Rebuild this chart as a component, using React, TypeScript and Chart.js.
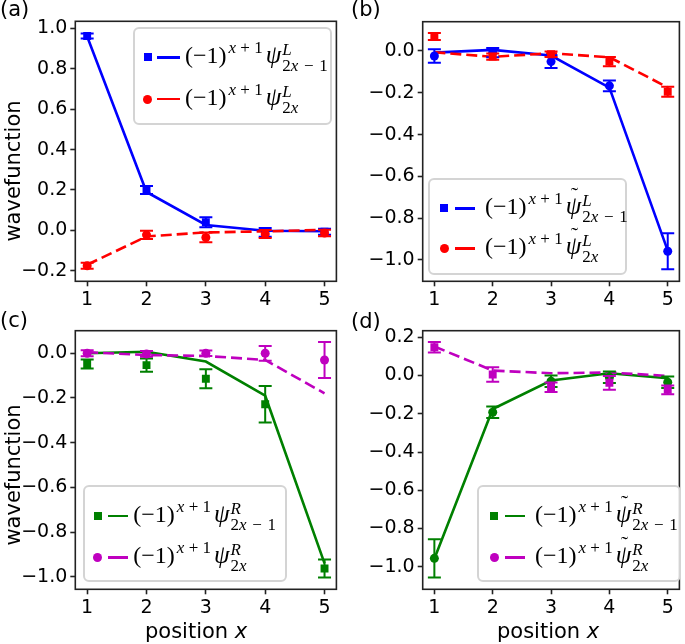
import React, { useEffect, useRef } from 'react';
import { Chart, registerables } from 'chart.js';

Chart.register(...registerables);

const SANS = '"DejaVu Sans", sans-serif';
const SERIF = '"Liberation Serif", "DejaVu Serif", serif';
const BLUE = '#0000ff';
const RED = '#ff0000';
const GREEN = '#008000';
const MAGENTA = '#bf00bf';

// x positions and ticks
const positions = [1, 2, 3, 4, 5];
const xTickValues = [1, 2, 3, 4, 5];

// (a) psi^L
const aTheoryOdd = [0.96, 0.19, 0.027, -0.002, -0.004];
const aDataOdd = [0.962, 0.2, 0.04, -0.01, -0.007];
const aErrOdd = [0.012, 0.02, 0.025, 0.022, 0.015];
const aTheoryEven = [-0.17, -0.03, -0.01, -0.005, 0.003];
const aDataEven = [-0.175, -0.022, -0.035, -0.018, -0.013];
const aErrEven = [0.015, 0.02, 0.024, 0.02, 0.016];
const aYTicks = [-0.2, 0.0, 0.2, 0.4, 0.6, 0.8, 1.0];

// (b) tilde psi^L
const bTheoryOdd = [-0.008, 0.005, -0.022, -0.175, -0.955];
const bDataOdd = [-0.024, -0.008, -0.051, -0.167, -0.958];
const bErrOdd = [0.032, 0.022, 0.03, 0.026, 0.086];
const bTheoryEven = [-0.006, -0.028, -0.011, -0.03, -0.174];
const bDataEven = [0.069, -0.027, -0.016, -0.051, -0.195];
const bErrEven = [0.017, 0.015, 0.013, 0.022, 0.024];
const bYTicks = [-1.0, -0.8, -0.6, -0.4, -0.2, 0.0];

// (c) psi^R
const cTheoryOdd = [0.0, 0.007, -0.037, -0.19, -0.94];
const cDataOdd = [-0.048, -0.053, -0.114, -0.228, -0.963];
const cErrOdd = [0.02, 0.03, 0.042, 0.082, 0.04];
const cTheoryEven = [0.005, -0.008, -0.012, -0.03, -0.179];
const cDataEven = [0.0, -0.003, 0.0, 0.0, -0.03];
const cErrEven = [0.013, 0.013, 0.012, 0.033, 0.081];
const cYTicks = [-1.0, -0.8, -0.6, -0.4, -0.2, 0.0];

// (d) tilde psi^R
const dTheoryOdd = [-0.958, -0.175, -0.026, 0.012, -0.014];
const dDataOdd = [-0.956, -0.192, -0.03, -0.009, -0.035];
const dErrOdd = [0.1, 0.03, 0.03, 0.03, 0.03];
const dTheoryEven = [0.152, 0.026, 0.012, 0.016, -0.002];
const dDataEven = [0.148, 0.005, -0.061, -0.038, -0.075];
const dErrEven = [0.027, 0.038, 0.025, 0.036, 0.023];
const dYTicks = [-1.0, -0.8, -0.6, -0.4, -0.2, 0.0, 0.2];

type Series = {
  kind: 'line' | 'points';
  values: number[];
  errors?: number[];
  color: string;
  dashed?: boolean;
  marker?: 'rect' | 'circle';
};

type PanelSpec = {
  canvas: { left: number; top: number; width: number; height: number };
  area: { l: number; t: number; r: number; b: number };
  yMin: number;
  yMax: number;
  yTicks: number[];
  series: Series[];
};

const panels: PanelSpec[] = [
  {
    canvas: { left: 0, top: 0, width: 342, height: 312 },
    area: { l: 75.3, t: 21.3, r: 337.7, b: 281.3 },
    yMin: -0.252, yMax: 1.035, yTicks: aYTicks,
    series: [
      { kind: 'points', values: aDataEven, errors: aErrEven, color: RED, marker: 'circle' },
      { kind: 'points', values: aDataOdd, errors: aErrOdd, color: BLUE, marker: 'rect' },
      { kind: 'line', values: aTheoryEven, color: RED, dashed: true },
      { kind: 'line', values: aTheoryOdd, color: BLUE },
    ],
  },
  {
    canvas: { left: 342, top: 0, width: 343, height: 312 },
    area: { l: 422.7, t: 21.7, r: 682.7, b: 281.3 },
    yMin: -1.102, yMax: 0.14, yTicks: bYTicks,
    series: [
      { kind: 'points', values: bDataEven, errors: bErrEven, color: RED, marker: 'rect' },
      { kind: 'points', values: bDataOdd, errors: bErrOdd, color: BLUE, marker: 'circle' },
      { kind: 'line', values: bTheoryEven, color: RED, dashed: true },
      { kind: 'line', values: bTheoryOdd, color: BLUE },
    ],
  },
  {
    canvas: { left: 0, top: 312, width: 342, height: 332 },
    area: { l: 75.3, t: 330.7, r: 337.7, b: 589.3 },
    yMin: -1.056, yMax: 0.101, yTicks: cYTicks,
    series: [
      { kind: 'points', values: cDataEven, errors: cErrEven, color: MAGENTA, marker: 'circle' },
      { kind: 'points', values: cDataOdd, errors: cErrOdd, color: GREEN, marker: 'rect' },
      { kind: 'line', values: cTheoryEven, color: MAGENTA, dashed: true },
      { kind: 'line', values: cTheoryOdd, color: GREEN },
    ],
  },
  {
    canvas: { left: 342, top: 312, width: 343, height: 332 },
    area: { l: 422.7, t: 330.7, r: 682.7, b: 589.3 },
    yMin: -1.118, yMax: 0.2345, yTicks: dYTicks,
    series: [
      { kind: 'points', values: dDataEven, errors: dErrEven, color: MAGENTA, marker: 'rect' },
      { kind: 'points', values: dDataOdd, errors: dErrOdd, color: GREEN, marker: 'circle' },
      { kind: 'line', values: dTheoryEven, color: MAGENTA, dashed: true },
      { kind: 'line', values: dTheoryOdd, color: GREEN },
    ],
  },
];

const errorBarPlugin = {
  id: 'errorBars',
  afterDatasetDraw(chart: any, args: any) {
    const ds = chart.data.datasets[args.index];
    if (!ds.errors) return;
    const { ctx } = chart;
    const xs = chart.scales.x;
    const ys = chart.scales.y;
    ctx.save();
    ctx.strokeStyle = ds.borderColor;
    ctx.lineWidth = 2;
    ds.data.forEach((pt: any, i: number) => {
      const e = ds.errors[i];
      const px = xs.getPixelForValue(pt.x);
      const top = ys.getPixelForValue(pt.y + e);
      const bot = ys.getPixelForValue(pt.y - e);
      ctx.beginPath();
      ctx.moveTo(px, top);
      ctx.lineTo(px, bot);
      ctx.moveTo(px - 6.5, top);
      ctx.lineTo(px + 6.5, top);
      ctx.moveTo(px - 6.5, bot);
      ctx.lineTo(px + 6.5, bot);
      ctx.stroke();
    });
    ctx.restore();
  },
};

const framePlugin = {
  id: 'frame',
  afterDraw(chart: any) {
    const { ctx, chartArea } = chart;
    ctx.save();
    ctx.strokeStyle = '#222';
    ctx.lineWidth = 1.6;
    ctx.strokeRect(chartArea.left, chartArea.top, chartArea.right - chartArea.left, chartArea.bottom - chartArea.top);
    ctx.restore();
  },
};

const fmtY = (v: number) => (v < -1e-9 ? '\u2212' : '') + Math.abs(v).toFixed(1);

function buildConfig(p: PanelSpec): any {
  const { canvas, area } = p;
  const tickFont = { family: SANS, size: 19 };
  const grid = { drawOnChartArea: false, drawTicks: true, tickLength: 5, tickWidth: 1.6, tickColor: '#222' };
  return {
    type: 'scatter',
    data: {
      datasets: p.series.map((s) => ({
        data: positions.map((x, i) => ({ x, y: s.values[i] })),
        showLine: s.kind === 'line',
        borderColor: s.color,
        backgroundColor: s.color,
        borderWidth: 2.6,
        borderDash: s.dashed ? [11, 5] : [],
        pointRadius: s.kind === 'line' ? 0 : s.marker === 'rect' ? 5.6 : 4.5,
        pointStyle: s.marker === 'rect' ? 'rect' : 'circle',
        pointBorderWidth: 0,
        errors: s.errors,
      })),
    },
    options: {
      responsive: false,
      animation: false,
      devicePixelRatio: 1,
      events: [],
      layout: {
        padding: {
          top: area.t - canvas.top,
          right: canvas.left + canvas.width - area.r,
          left: 0,
          bottom: 0,
        },
      },
      plugins: { legend: { display: false }, tooltip: { enabled: false }, title: { display: false } },
      scales: {
        x: {
          type: 'linear',
          min: 0.8,
          max: 5.2,
          afterBuildTicks: (s: any) => { s.ticks = xTickValues.map((v) => ({ value: v })); },
          afterFit: (s: any) => { s.height = canvas.top + canvas.height - area.b; },
          grid,
          border: { display: false },
          ticks: { font: tickFont, color: '#000', padding: 2, maxRotation: 0, autoSkip: false, callback: (v: number) => String(v) },
        },
        y: {
          type: 'linear',
          min: p.yMin,
          max: p.yMax,
          afterBuildTicks: (s: any) => { s.ticks = p.yTicks.map((v) => ({ value: v })); },
          afterFit: (s: any) => { s.width = area.l - canvas.left; },
          grid,
          border: { display: false },
          ticks: { font: tickFont, color: '#000', padding: 3, autoSkip: false, callback: (v: number) => fmtY(v) },
        },
      },
    },
    plugins: [errorBarPlugin, framePlugin],
  };
}

function ChartPanel({ spec }: { spec: PanelSpec }) {
  const ref = useRef<HTMLCanvasElement>(null);
  useEffect(() => {
    const chart = new Chart(ref.current as HTMLCanvasElement, buildConfig(spec));
    return () => chart.destroy();
  }, [spec]);
  const c = spec.canvas;
  return (
    <canvas
      ref={ref}
      width={c.width}
      height={c.height}
      style={{ position: 'absolute', left: c.left, top: c.top, width: c.width, height: c.height }}
    />
  );
}

function MathLabel({ tilde, letter, odd }: { tilde: boolean; letter: string; odd: boolean }) {
  return (
    <span style={{ fontFamily: SERIF, fontSize: 24, lineHeight: 1, display: 'inline-flex', alignItems: 'baseline', color: '#000' }}>
      <span>(−1)</span>
      <span style={{ fontSize: 17, position: 'relative', top: -10, marginLeft: 2 }}>
        <i>x</i>{'\u2005'}+{'\u2005'}1
      </span>
      <span style={{ position: 'relative', marginLeft: 3, fontSize: 25 }}>
        <i>ψ</i>
        {tilde && <span style={{ position: 'absolute', left: 5, top: -9, fontSize: 22 }}>˜</span>}
      </span>
      <span style={{ display: 'inline-flex', flexDirection: 'column', fontSize: 17, lineHeight: '16px', position: 'relative', top: -8, marginLeft: 1 }}>
        <i>{letter}</i>
        <span>2<i>x</i>{odd ? '\u2004\u2212\u20041' : ''}</span>
      </span>
    </span>
  );
}

type LegendSpec = {
  box: { x: number; y: number; w: number; h: number };
  markerX: number;
  lineX1: number;
  lineX2: number;
  textX: number;
  rows: { y: number; color: string; marker: 'square' | 'circle'; label: React.ReactNode }[];
};

const legends: LegendSpec[] = [
  {
    box: { x: 133, y: 26.5, w: 199, h: 98 },
    markerX: 147.7, lineX1: 156.5, lineX2: 179.5, textX: 185,
    rows: [
      { y: 57.3, color: BLUE, marker: 'square', label: <MathLabel tilde={false} letter="L" odd={true} /> },
      { y: 99, color: RED, marker: 'circle', label: <MathLabel tilde={false} letter="L" odd={false} /> },
    ],
  },
  {
    box: { x: 428, y: 178, w: 199, h: 97 },
    markerX: 444.3, lineX1: 455, lineX2: 475, textX: 485,
    rows: [
      { y: 208.3, color: BLUE, marker: 'square', label: <MathLabel tilde={true} letter="L" odd={true} /> },
      { y: 248.3, color: RED, marker: 'circle', label: <MathLabel tilde={true} letter="L" odd={false} /> },
    ],
  },
  {
    box: { x: 83, y: 485, w: 204, h: 97 },
    markerX: 97.7, lineX1: 108.3, lineX2: 128.3, textX: 133.3,
    rows: [
      { y: 516, color: GREEN, marker: 'square', label: <MathLabel tilde={false} letter="R" odd={true} /> },
      { y: 557.3, color: MAGENTA, marker: 'circle', label: <MathLabel tilde={false} letter="R" odd={false} /> },
    ],
  },
  {
    box: { x: 476.5, y: 485, w: 204, h: 97 },
    markerX: 494.3, lineX1: 505, lineX2: 525, textX: 535,
    rows: [
      { y: 516, color: GREEN, marker: 'square', label: <MathLabel tilde={true} letter="R" odd={true} /> },
      { y: 557.3, color: MAGENTA, marker: 'circle', label: <MathLabel tilde={true} letter="R" odd={false} /> },
    ],
  },
];

function Legend({ spec }: { spec: LegendSpec }) {
  const { box } = spec;
  return (
    <>
      <div
        style={{
          position: 'absolute', left: box.x, top: box.y, width: box.w, height: box.h,
          boxSizing: 'border-box', border: '2px solid #d4d4d4', borderRadius: 6,
          background: 'rgba(255,255,255,0.8)',
        }}
      />
      {spec.rows.map((r, i) => (
        <React.Fragment key={i}>
          <div
            style={{
              position: 'absolute',
              left: spec.markerX - (r.marker === 'square' ? 4 : 4.5),
              top: r.y - (r.marker === 'square' ? 4 : 4.5),
              width: r.marker === 'square' ? 8 : 9,
              height: r.marker === 'square' ? 8 : 9,
              borderRadius: r.marker === 'circle' ? '50%' : 0,
              background: r.color,
            }}
          />
          <div
            style={{
              position: 'absolute', left: spec.lineX1, top: r.y - 1.25,
              width: spec.lineX2 - spec.lineX1, height: 2.5, background: r.color,
            }}
          />
          <div
            style={{
              position: 'absolute', left: spec.textX, top: r.y + 5,
              transform: 'translateY(-50%)', whiteSpace: 'nowrap',
            }}
          >
            {r.label}
          </div>
        </React.Fragment>
      ))}
    </>
  );
}

const Txt = ({ x, y, size, children, style }: any) => (
  <div
    style={{
      position: 'absolute', left: x, top: y, fontFamily: SANS, fontSize: size,
      lineHeight: 1, whiteSpace: 'nowrap', color: '#000', ...style,
    }}
  >
    {children}
  </div>
);

export default function App() {
  return (
    <div style={{ position: 'absolute', left: 0, top: 0, width: 685, height: 644, background: '#fff', overflow: 'hidden' }}>
      {panels.map((p, i) => (
        <ChartPanel key={i} spec={p} />
      ))}
      {legends.map((l, i) => (
        <Legend key={i} spec={l} />
      ))}
      <Txt x={0} y={-1} size={21}>(a)</Txt>
      <Txt x={351} y={-1} size={21}>(b)</Txt>
      <Txt x={0} y={310} size={21}>(c)</Txt>
      <Txt x={351} y={311} size={21}>(d)</Txt>
      <Txt x={13.3} y={171} size={21} style={{ transform: 'translate(-50%,-50%) rotate(-90deg)' }}>wavefunction</Txt>
      <Txt x={13.3} y={475} size={21} style={{ transform: 'translate(-50%,-50%) rotate(-90deg)' }}>wavefunction</Txt>
      <Txt x={145} y={621} size={21}>position <i>x</i></Txt>
      <Txt x={497} y={621} size={21}>position <i>x</i></Txt>
    </div>
  );
}
